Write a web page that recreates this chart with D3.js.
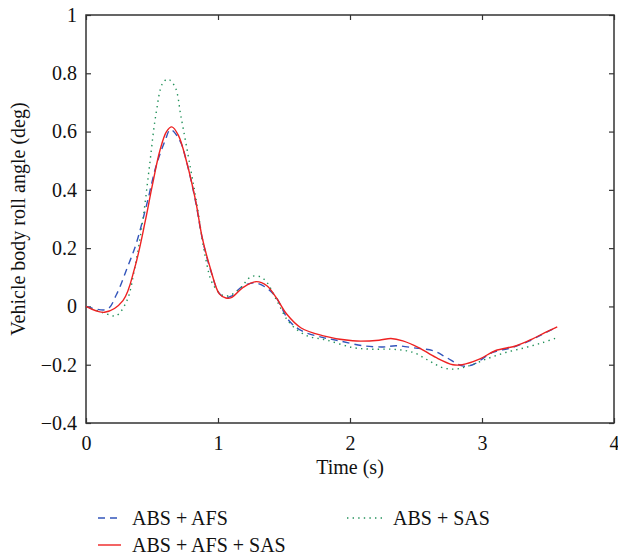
<!DOCTYPE html>
<html>
  <head>
    <meta charset="utf-8">
    <style>
      body { margin: 0; background: #fff; }
      svg { display: block; }
      svg text { font-family: "Liberation Serif", "DejaVu Serif", serif; }
    </style>
    <script src="https://d3js.org/d3.v7.min.js"></script>
  </head>
  <body>
    <div id="chart"></div>
    <script>
      // series: time (s) and roll angle (deg)
      var tAFS = [0, 0.16, 0.23, 0.31, 0.38, 0.46, 0.53, 0.60, 0.64, 0.71, 0.76, 0.83, 0.88, 0.94, 1.01, 1.06, 1.10, 1.19, 1.29, 1.42, 1.54, 1.64, 1.79, 1.92, 2.10, 2.25, 2.35, 2.50, 2.63, 2.73, 2.85, 2.93, 3.08, 3.23, 3.36, 3.46, 3.56];
      var vAFS = [0, -0.01, 0.04, 0.13, 0.215, 0.35, 0.48, 0.57, 0.607, 0.57, 0.5, 0.36, 0.235, 0.13, 0.045, 0.03, 0.035, 0.07, 0.08, 0.043, -0.05, -0.085, -0.106, -0.118, -0.135, -0.139, -0.135, -0.143, -0.152, -0.175, -0.204, -0.2, -0.158, -0.141, -0.118, -0.095, -0.072];

      var tFull = [0, 0.14, 0.28, 0.37, 0.45, 0.50, 0.56, 0.61, 0.65, 0.70, 0.76, 0.83, 0.88, 0.94, 1.01, 1.06, 1.10, 1.19, 1.29, 1.37, 1.44, 1.52, 1.63, 1.79, 2.02, 2.22, 2.31, 2.40, 2.52, 2.65, 2.78, 2.85, 2.98, 3.10, 3.26, 3.38, 3.48, 3.57];
      var vFull = [0, -0.02, 0.02, 0.134, 0.295, 0.41, 0.535, 0.60, 0.616, 0.587, 0.50, 0.364, 0.237, 0.134, 0.043, 0.029, 0.03, 0.065, 0.085, 0.071, 0.031, -0.026, -0.074, -0.10, -0.118, -0.116, -0.11, -0.118, -0.141, -0.175, -0.20, -0.20, -0.181, -0.152, -0.135, -0.112, -0.089, -0.07];

      var tSAS = [0, 0.18, 0.23, 0.31, 0.37, 0.43, 0.48, 0.53, 0.58, 0.62, 0.675, 0.72, 0.79, 0.84, 0.90, 0.96, 1.04, 1.10, 1.17, 1.25, 1.32, 1.37, 1.44, 1.54, 1.67, 1.82, 2.02, 2.17, 2.33, 2.48, 2.60, 2.70, 2.80, 2.90, 3.03, 3.18, 3.33, 3.46, 3.57];
      var vSAS = [0, -0.029, -0.032, 0.02, 0.134, 0.295, 0.478, 0.66, 0.765, 0.78, 0.753, 0.65, 0.478, 0.352, 0.18, 0.077, 0.037, 0.04, 0.063, 0.102, 0.102, 0.083, 0.025, -0.055, -0.10, -0.115, -0.141, -0.147, -0.147, -0.158, -0.187, -0.21, -0.215, -0.204, -0.181, -0.158, -0.141, -0.124, -0.107];

      var xTicks = [0, 1, 2, 3, 4];
      var yTicks = [-0.4, -0.2, 0, 0.2, 0.4, 0.6, 0.8, 1];
      var names = ["ABS + AFS", "ABS + SAS", "ABS + AFS + SAS"];

      var W = 618, H = 556;
      var margin = {top: 15, right: 4, bottom: 133, left: 86},
          width = W - margin.left - margin.right,
          height = H - margin.top - margin.bottom;

      var svg = d3.select("#chart").append("svg")
        .attr("width", W).attr("height", H);
      var g = svg.append("g").attr("transform", "translate(" + margin.left + "," + margin.top + ")");

      var x = d3.scaleLinear().domain([0, 4]).range([0, width]);
      var y = d3.scaleLinear().domain([-0.4, 1]).range([height, 0]);

      var fmtY = function(d) { return d === 0 ? "0" : d === 1 ? "1" : d3.format(".1f")(d).replace("-", "\u2212"); };

      // axes, ticks inward on all four sides
      g.append("g").attr("transform", "translate(0," + height + ")")
        .call(d3.axisBottom(x).tickValues(xTicks).tickSizeInner(-5).tickSizeOuter(0).tickPadding(13).tickFormat(d3.format("d")));
      g.append("g")
        .call(d3.axisLeft(y).tickValues(yTicks).tickSizeInner(-5).tickSizeOuter(0).tickPadding(9).tickFormat(fmtY));
      g.append("g")
        .call(d3.axisTop(x).tickValues(xTicks).tickSizeInner(-5).tickSizeOuter(0).tickFormat(""));
      g.append("g").attr("transform", "translate(" + width + ",0)")
        .call(d3.axisRight(y).tickValues(yTicks).tickSizeInner(-5).tickSizeOuter(0).tickFormat(""));
      g.selectAll(".domain").remove();
      g.selectAll(".tick line").attr("stroke", "#333").attr("stroke-width", 1.2);
      g.selectAll(".tick text").attr("font-size", 20).attr("fill", "#111");

      g.append("rect").attr("width", width).attr("height", height)
        .attr("fill", "none").attr("stroke", "#333").attr("stroke-width", 1.5);

      var line = d3.line()
        .x(function(d) { return x(d[0]); })
        .y(function(d) { return y(d[1]); })
        .curve(d3.curveCatmullRom.alpha(0.5));

      function pairs(t, v) { return t.map(function(d, i) { return [d, v[i]]; }); }

      var series = [
        {name: names[0], data: pairs(tAFS, vAFS), color: "#3355bb", dash: "7,5"},
        {name: names[1], data: pairs(tSAS, vSAS), color: "#22915a", dash: "1.4,4.2"},
        {name: names[2], data: pairs(tFull, vFull), color: "#ee2222", dash: null}
      ];

      g.selectAll(".series").data(series).enter().append("path")
        .attr("class", "series")
        .attr("d", function(d) { return line(d.data); })
        .attr("fill", "none")
        .attr("stroke", function(d) { return d.color; })
        .attr("stroke-width", 1.4)
        .attr("stroke-dasharray", function(d) { return d.dash; });

      // axis titles
      svg.append("text").attr("x", margin.left + width / 2).attr("y", 474)
        .attr("text-anchor", "middle").attr("font-size", 20).attr("fill", "#111").text("Time (s)");
      svg.append("text").attr("transform", "translate(25," + (margin.top + height / 2) + ") rotate(-90)")
        .attr("text-anchor", "middle").attr("font-size", 20).attr("fill", "#111").text("Vehicle body roll angle (deg)");

      // legend
      var legPos = [[98, 518], [347, 518], [98, 545]];
      var leg = svg.selectAll(".leg").data(series).enter().append("g")
        .attr("class", "leg")
        .attr("transform", function(d, i) { return "translate(" + legPos[i][0] + "," + legPos[i][1] + ")"; });
      leg.append("line").attr("x1", 0).attr("x2", function(d, i) { return i === 1 ? 36 : 23; })
        .attr("stroke", function(d) { return d.color; }).attr("stroke-width", 1.4)
        .attr("stroke-dasharray", function(d) { return d.dash; });
      leg.append("text").attr("x", function(d, i) { return i === 1 ? 46 : 34; }).attr("y", 6.5)
        .attr("font-size", 20).attr("fill", "#111").text(function(d) { return d.name; });
    </script>
  </body>
</html>
